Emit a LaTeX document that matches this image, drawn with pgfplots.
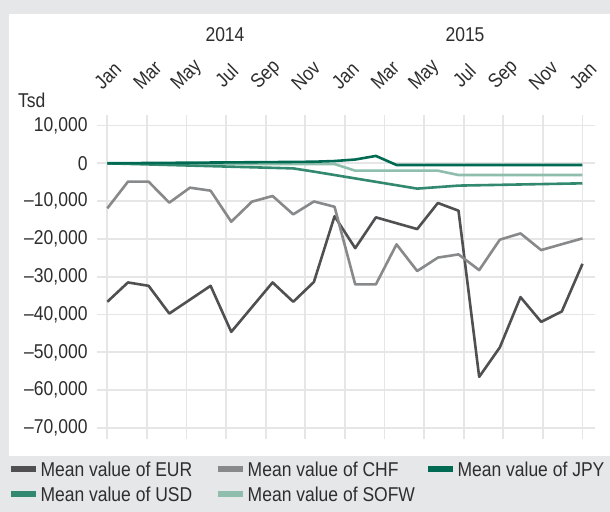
\documentclass[border=0pt]{standalone}
\usepackage{fontspec}
\setmainfont{Liberation Sans}[FakeStretch=0.875]
\usepackage{pgfplots}
\pgfplotsset{compat=1.18}
\usepackage{pgfplotstable}
\definecolor{bggray}{HTML}{E6E7E8}
\definecolor{gridc}{HTML}{E6E6E6}
\definecolor{eurc}{HTML}{505052}
\definecolor{chfc}{HTML}{88898B}
\definecolor{jpyc}{HTML}{006A52}
\definecolor{usdc}{HTML}{32896F}
\definecolor{sofwc}{HTML}{8FBEAD}
\definecolor{txt}{HTML}{2E2E2E}
\newcommand\fs{\fontsize{20bp}{24bp}\selectfont}

\pgfplotstableread{
i eur chf jpy usd sofw
0 -36640 -11920 0 0 0
1 -31520 -4860 40 -150 -60
2 -32410 -4860 80 -300 -80
3 -39740 -10420 120 -450 -100
4 -36080 -6450 160 -600 -120
5 -32410 -7240 200 -750 -140
6 -44600 -15450 240 -900 -160
7 -38060 -10150 280 -1050 -180
8 -31520 -8650 320 -1200 -200
9 -36640 -13510 360 -1350 -200
10 -31400 -10100 420 -2200 -200
11 -14000 -11500 600 -3100 -200
12 -22450 -32030 1000 -4000 -1950
13 -14300 -32030 1950 -4900 -1950
14 -15850 -21450 -450 -5800 -1950
15 -17400 -28500 -450 -6700 -1950
16 -10500 -24950 -450 -6300 -1950
17 -12540 -24100 -450 -5900 -3100
18 -56500 -28260 -450 -5800 -3100
19 -48700 -20200 -450 -5700 -3100
20 -35400 -18550 -450 -5600 -3100
21 -41950 -22960 -450 -5500 -3100
22 -39200 -21400 -450 -5400 -3100
23 -26600 -19870 -450 -5300 -3100
}\data

\begin{document}
\begin{tikzpicture}
\path[use as bounding box, fill=bggray] (0bp,0bp) rectangle (610bp,512bp);
\fill[white] (9bp,56bp) rectangle (610bp,498bp);
\node[font=\fs, text=txt] at (225bp,477bp) {2014};
\node[font=\fs, text=txt] at (465bp,477bp) {2015};
\node[font=\fs, text=txt, anchor=west, inner sep=0pt] at (18bp,412bp) {Tsd};
\begin{axis}[
  at={(96.7bp,73bp)}, anchor=south west,
  width=498.3bp, height=324bp, scale only axis,
  xmin=-0.513, xmax=23.606, ymin=-72937, ymax=12778,
  scaled y ticks=false,
  axis line style={draw=none}, major tick length=0pt,
  xtick={0,1.91667,3.83333,5.75,7.66667,9.58333,11.5,13.41667,15.33333,17.25,19.16667,21.08333,23},
  xticklabels={Jan,Mar,May,Jul,Sep,Nov,Jan,Mar,May,Jul,Sep,Nov,Jan},
  xticklabel pos=upper,
  xticklabel style={xshift=0.5bp, yshift=39.5bp, rotate=45, anchor=center},
  ytick={-70000,-60000,-50000,-40000,-30000,-20000,-10000,0,10000},
  yticklabels={{–70,000},{–60,000},{–50,000},{–40,000},{–30,000},{–20,000},{–10,000},{0},{10,000}},
  yticklabel style={anchor=east, inner sep=0pt, xshift=-9bp},
  grid=major, major grid style={gridc, line width=1.8bp},
  tick label style={font=\fs, text=txt},
  legend columns=3,
  legend cell align=left,
  legend image code/.code={\draw[line width=6.5bp, line cap=butt] (0bp,0bp) -- (25bp,0bp);},
  legend style={at={(-0.178,-0.0705)}, anchor=north west, draw=none, fill=none,
    inner sep=0pt, inner xsep=0pt, inner ysep=0pt, outer sep=0pt, font=\fs, text=txt,
    nodes={inner sep=0pt, text height=14.3bp, text depth=0bp},
    row sep=10.7bp,
    /tikz/column 1/.style={column sep=1bp},
    /tikz/column 2/.style={column sep=23bp},
    /tikz/column 3/.style={column sep=1bp},
    /tikz/column 4/.style={column sep=10bp},
    /tikz/column 5/.style={column sep=1bp}},
  every axis plot/.append style={line width=2.6bp, line join=round, no markers},
]
\addlegendimage{eurc}\addlegendentry{Mean value of EUR}
\addlegendimage{chfc}\addlegendentry{Mean value of CHF}
\addlegendimage{jpyc}\addlegendentry{Mean value of JPY}
\addlegendimage{usdc}\addlegendentry{Mean value of USD}
\addlegendimage{sofwc}\addlegendentry{Mean value of SOFW}
\addplot[eurc, forget plot] table[x=i, y=eur] {\data};
\addplot[chfc, forget plot] table[x=i, y=chf] {\data};
\addplot[sofwc, forget plot] table[x=i, y=sofw] {\data};
\addplot[usdc, forget plot] table[x=i, y=usd] {\data};
\addplot[jpyc, forget plot] table[x=i, y=jpy] {\data};
\end{axis}
\end{tikzpicture}
\end{document}
